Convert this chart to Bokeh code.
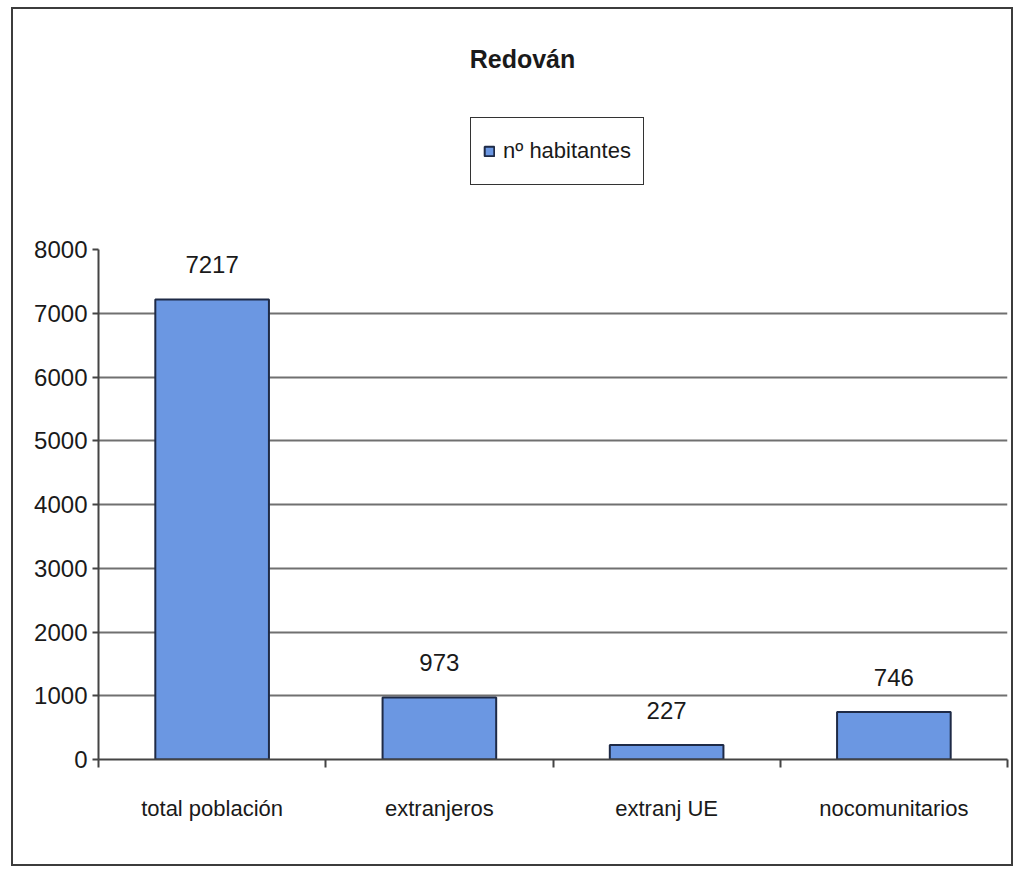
from bokeh.plotting import figure
from bokeh.layouts import column
from bokeh.models import (ColumnDataSource, FixedTicker, Range1d, Label, Legend,
                          LegendItem, LabelSet)
from bokeh.core.properties import value
from bokeh.embed import file_html
from bokeh.resources import INLINE

title = "Redován"
series_name = "nº habitantes"
categories = ["total población", "extranjeros", "extranj UE", "nocomunitarios"]
values = [7217, 973, 227, 746]
y_ticks = [0, 1000, 2000, 3000, 4000, 5000, 6000, 7000, 8000]

FONT = "Liberation Sans"
TXT = "#1a1a1a"
BAR_FILL = "#6b97e2"
BAR_LINE = "#1e2a46"

xpos = [i + 0.5 for i in range(len(categories))]
src = ColumnDataSource(dict(x=xpos, top=values, lab=[str(v) for v in values]))

W = 998
TOP_H = 226
fl, ft, fr, fb = 85, 14, 4, 105
MAIN_H = ft + 510 + fb
FW = W - fl - fr  # frame width

# ---- header figure (title + legend) ----
h = figure(width=W, height=TOP_H, output_backend="svg", toolbar_location=None,
           x_range=Range1d(0, FW), y_range=Range1d(0, TOP_H),
           x_axis_type=None, y_axis_type=None,
           min_border_left=fl, min_border_right=fr,
           min_border_top=0, min_border_bottom=0)
h.grid.visible = False
h.outline_line_color = None
h.add_layout(Label(x=424, y=TOP_H - 49, text=title, text_font=FONT,
                   text_font_style="bold", text_font_size="25px",
                   text_color=TXT, text_align="center", text_baseline="middle"))
# hidden copy of the bar series, used only to draw the legend swatch
lr = h.vbar(x="x", top="top", width=0.5, source=src,
            fill_color=BAR_FILL, line_color=BAR_LINE, line_width=2)
lr.visible = False
legend = Legend(items=[LegendItem(label=series_name, renderers=[lr], index=0)],
                location=(372, 50), orientation="vertical",
                label_text_font=FONT, label_text_font_size="22px",
                label_text_color=TXT, label_height=42,
                glyph_width=12, glyph_height=12, label_standoff=8,
                padding=12, margin=0, border_line_color="#333333",
                border_line_alpha=1, border_line_width=1.5,
                background_fill_alpha=1, inactive_fill_alpha=0)
h.add_layout(legend, "center")

# ---- main chart ----
p = figure(width=W, height=MAIN_H, output_backend="svg", toolbar_location=None,
           x_range=Range1d(0, len(categories)), y_range=Range1d(0, 8000),
           min_border_left=fl, min_border_top=ft, min_border_right=fr,
           min_border_bottom=fb)
p.outline_line_color = None

r = p.vbar(x="x", top="top", width=0.5, bottom=0, source=src,
           fill_color=BAR_FILL, line_color=BAR_LINE, line_width=2)

p.add_layout(LabelSet(x="x", y="top", text="lab", source=src, text_align="center",
                      text_baseline="bottom", y_offset=26, text_font=value(FONT),
                      text_font_size=value("24px"), text_color=TXT))

p.yaxis.ticker = FixedTicker(ticks=y_ticks)
p.yaxis.major_label_text_font = FONT
p.yaxis.major_label_text_font_size = "24px"
p.yaxis.major_label_text_color = TXT
p.yaxis.axis_line_color = "#444444"
p.yaxis.axis_line_width = 2
p.yaxis.major_tick_line_color = "#444444"
p.yaxis.major_tick_line_width = 2
p.yaxis.major_tick_out = 6
p.yaxis.major_tick_in = 0
p.yaxis.minor_tick_line_color = None
p.yaxis.major_label_standoff = 5

p.xaxis.ticker = FixedTicker(ticks=xpos, minor_ticks=list(range(len(categories) + 1)))
p.xaxis.major_label_overrides = {x: c for x, c in zip(xpos, categories)}
p.xaxis.major_label_text_font = FONT
p.xaxis.major_label_text_font_size = "22px"
p.xaxis.major_label_text_color = TXT
p.xaxis.major_label_standoff = 28
p.xaxis.major_tick_line_color = None
p.xaxis.minor_tick_line_color = "#444444"
p.xaxis.minor_tick_line_width = 2
p.xaxis.minor_tick_out = 8
p.xaxis.minor_tick_in = 0
p.xaxis.axis_line_color = "#444444"
p.xaxis.axis_line_width = 2

p.xgrid.grid_line_color = None
p.ygrid.ticker = FixedTicker(ticks=y_ticks)
p.ygrid.grid_line_color = "#707070"
p.ygrid.grid_line_width = 2

layout = column(h, p, spacing=0, margin=(7, 0, 0, 11),
                styles={"border": "2px solid #3c3c3c"})

open("out.html", "w").write(file_html(layout, INLINE))
